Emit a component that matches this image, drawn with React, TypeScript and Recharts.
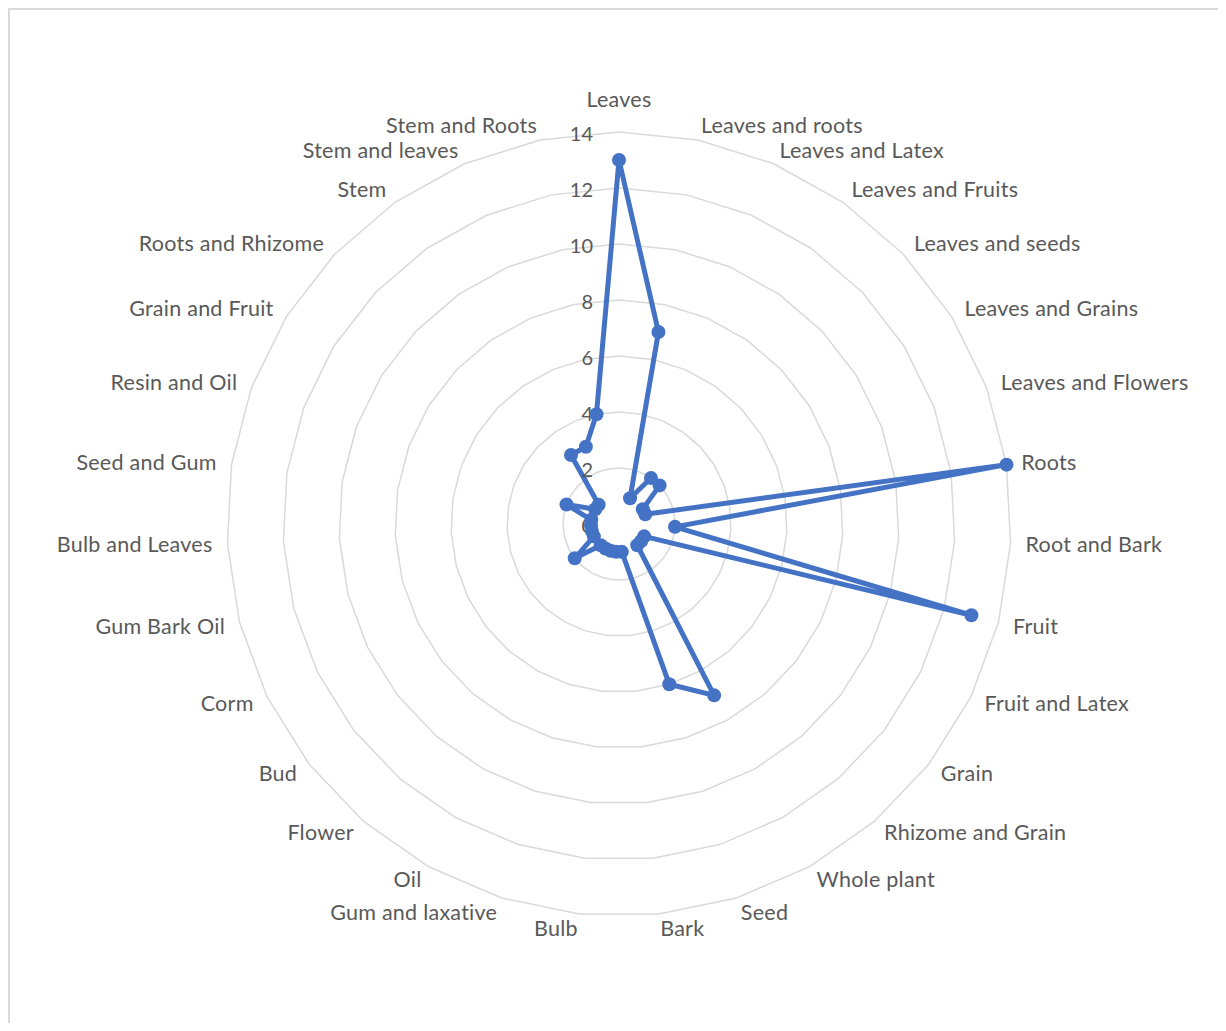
import React from 'react';
import { RadarChart, Radar, PolarGrid, PolarAngleAxis, PolarRadiusAxis } from 'recharts';

// Plant parts and how many entries use each one
const parts: string[] = [
  'Leaves', 'Leaves and roots', 'Leaves and Latex', 'Leaves and Fruits', 'Leaves and seeds',
  'Leaves and Grains', 'Leaves and Flowers', 'Roots', 'Root and Bark', 'Fruit',
  'Fruit and Latex', 'Grain', 'Rhizome and Grain', 'Whole plant', 'Seed', 'Bark', 'Bulb',
  'Gum and laxative', 'Oil', 'Flower', 'Bud', 'Corm', 'Gum Bark Oil', 'Bulb and Leaves',
  'Seed and Gum', 'Resin and Oil', 'Grain and Fruit', 'Roots and Rhizome', 'Stem',
  'Stem and leaves', 'Stem and Roots',
];

const counts: number[] = [
  13, 7, 1, 2, 2, 1, 1, 14, 2, 13, 1, 1, 1, 7, 6, 1, 1, 1, 1, 1, 2, 1, 1, 1, 1, 2, 1, 1, 3, 3, 4,
];

const radiusTicks: number[] = [0, 2, 4, 6, 8, 10, 12, 14];

const data = parts.map((name, i) => ({ name, value: counts[i] }));

const W = 1210;
const H = 1015;
const CX = 611;
const CY = 516;
const R = 392;
const FONT = 'Lato, "Open Sans", sans-serif';
const TEXT = '#595959';
const BLUE = '#4472C4';

const AngleTick = (props: any) => {
  const coord: number = props.payload.coordinate;
  const rad = (coord * Math.PI) / 180;
  const c = Math.cos(rad);
  const s = Math.sin(rad);
  const r = R + 15;
  const x = CX + r * c;
  let y = CY - r * s;
  let anchor: 'start' | 'end' | 'middle' = 'middle';
  if (c > 0.01) anchor = 'start';
  else if (c < -0.01) anchor = 'end';
  else y -= 18;
  return (
    <text
      x={x}
      y={y}
      dy="0.35em"
      textAnchor={anchor}
      fill={TEXT}
      fontSize={21.5}
      letterSpacing={0.25}
      fontFamily={FONT}
    >
      {props.payload.value}
    </text>
  );
};

const RadiusTick = (props: any) => (
  <text
    x={props.x - 26}
    y={props.y + 2}
    dy="0.35em"
    textAnchor="end"
    fill={TEXT}
    fontSize={20}
    fontFamily={FONT}
  >
    {props.payload.value}
  </text>
);

const Marker = (props: any) => (
  <circle cx={props.cx} cy={props.cy} r={7} fill={BLUE} stroke="none" />
);

export default function App() {
  return (
    <div style={{ position: 'relative', width: W, height: H, background: '#fff' }}>
      <div
        style={{
          position: 'absolute',
          left: 0,
          top: 0,
          width: W,
          height: H,
          borderTop: '2px solid #d9d9d9',
          borderLeft: '2px solid #d9d9d9',
          boxSizing: 'border-box',
          pointerEvents: 'none',
        }}
      />
      <RadarChart
        width={W}
        height={H}
        cx={CX}
        cy={CY}
        outerRadius={R}
        data={data}
        margin={{ top: 0, right: 0, bottom: 0, left: 0 }}
        startAngle={90}
        endAngle={-270}
      >
        <PolarGrid gridType="polygon" radialLines={false} stroke="#d9d9d9" strokeWidth={1.5} />
        <PolarAngleAxis dataKey="name" tick={<AngleTick />} tickLine={false} axisLine={false} />
        <Radar
          dataKey="value"
          stroke={BLUE}
          strokeWidth={5}
          strokeLinejoin="round"
          fill="none"
          fillOpacity={0}
          dot={<Marker />}
          isAnimationActive={false}
        />
        <PolarRadiusAxis
          angle={90}
          domain={[0, 14]}
          ticks={radiusTicks}
          tickCount={8}
          axisLine={false}
          tickLine={false}
          tick={<RadiusTick />}
        />
      </RadarChart>
    </div>
  );
}
